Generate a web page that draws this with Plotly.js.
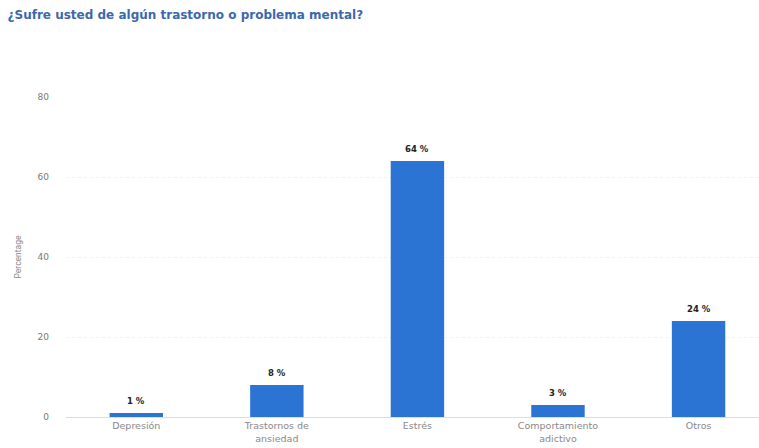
<!DOCTYPE html>
<html>
<head>
<meta charset="utf-8">
<script src="https://cdn.plot.ly/plotly-3.0.1.min.js"></script>
<style>html,body{margin:0;padding:0;background:#fff;}#chart{width:759px;height:448px;}</style>
</head>
<body>
<div id="chart"></div>
<script>
var categories = ["Depresión", "Trastornos de<br>ansiedad", "Estrés", "Comportamiento<br>adictivo", "Otros"];
var values = [1, 8, 64, 3, 24];
var yTicks = [0, 20, 40, 60, 80];

var trace = {
  type: 'bar',
  x: categories,
  y: values,
  marker: {color: '#2c74d4'},
  hoverinfo: 'none'
};

var annotations = categories.map(function (c, i) {
  return {
    x: c, y: values[i], xref: 'x', yref: 'y',
    text: values[i] + ' %',
    showarrow: false, yanchor: 'bottom', yshift: 5,
    font: {family: '"DejaVu Sans", Arial, sans-serif', size: 8.5, color: '#222', weight: 'bold'}
  };
});

var layout = {
  width: 759,
  height: 448,
  margin: {l: 66, r: 0, t: 97, b: 31},
  paper_bgcolor: '#fff',
  plot_bgcolor: '#fff',
  bargap: 0.62,
  showlegend: false,
  annotations: annotations,
  font: {family: '"DejaVu Sans", Arial, sans-serif', color: '#666'},
  title: {
    text: '¿Sufre usted de algún trastorno o problema mental?',
    x: 0.01, xanchor: 'left', y: 0.966, yanchor: 'middle',
    font: {size: 12, color: '#3b68ad', family: '"DejaVu Sans", Arial, sans-serif', weight: 'bold'}
  },
  xaxis: {
    type: 'category',
    range: [-0.5, 4.43],
    showgrid: false,
    showline: true,
    linecolor: '#dddddd',
    linewidth: 1,
    zeroline: false,
    ticks: '',
    tickfont: {size: 9.5, color: '#888'}
  },
  yaxis: {
    range: [0, 80],
    tickvals: yTicks,
    ticktext: yTicks.map(String),
    showgrid: true,
    gridcolor: '#f2f2f2',
    griddash: 'dot',
    zeroline: false,
    showline: false,
    ticks: '',
    ticklabelstandoff: 16,
    tickfont: {size: 9, color: '#777'},
    title: {text: 'Percentage', font: {size: 8.5, color: '#888', family: 'Roboto, Arial, sans-serif'}, standoff: 14}
  }
};

Plotly.newPlot('chart', [trace], layout, {displayModeBar: false, staticPlot: true});
</script>
</body>
</html>
